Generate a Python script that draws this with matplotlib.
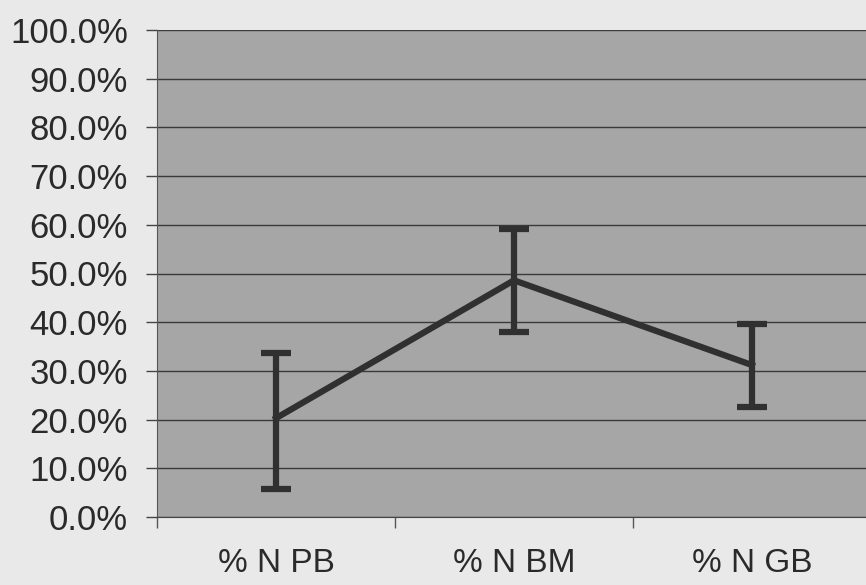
import matplotlib.pyplot as plt
import numpy as np

# data
categories = ['% N PB', '% N BM', '% N GB']
means = [20.3, 48.6, 31.2]
err_low = [14.6, 10.6, 8.7]
err_high = [13.4, 10.5, 8.5]
y_ticks = [0, 10, 20, 30, 40, 50, 60, 70, 80, 90, 100]

plt.rcParams['font.family'] = ['Liberation Sans', 'DejaVu Sans']

fig = plt.figure(figsize=(8.66, 5.85), dpi=100, facecolor='#e9e9e9')
ax = fig.add_axes([157 / 866, 68 / 585, 714 / 866, 487 / 585])
ax.set_facecolor('#a6a6a6')

x = np.arange(len(categories))
ax.errorbar(x, means, yerr=[err_low, err_high], color='#303030', linewidth=4.5,
            elinewidth=4.5, capsize=11, capthick=4.5, zorder=3)

ax.set_xlim(-0.5, 2.5)
ax.set_ylim(0, 100)
ax.set_yticks(y_ticks)
ax.set_yticklabels([f'{v:.1f}%' for v in y_ticks], fontsize=25, color='#2a2a2a')
ax.yaxis.grid(True, color='#3a3a3a', linewidth=1)
ax.set_axisbelow(True)

ax.set_xticks(x)
ax.set_xticklabels(categories, fontsize=24, color='#2a2a2a')
ax.set_xticks([-0.5, 0.5, 1.5], minor=True)
ax.tick_params(axis='x', which='major', length=0, pad=22)
ax.tick_params(axis='x', which='minor', length=8, width=1, color='#555555')
ax.tick_params(axis='y', length=8, width=1, color='#444444', pad=13)

for s in ['top', 'right']:
    ax.spines[s].set_visible(False)
ax.spines['left'].set_color('#555555')
ax.spines['bottom'].set_color('#444444')

fig.savefig('out.png', dpi=100, facecolor=fig.get_facecolor())
